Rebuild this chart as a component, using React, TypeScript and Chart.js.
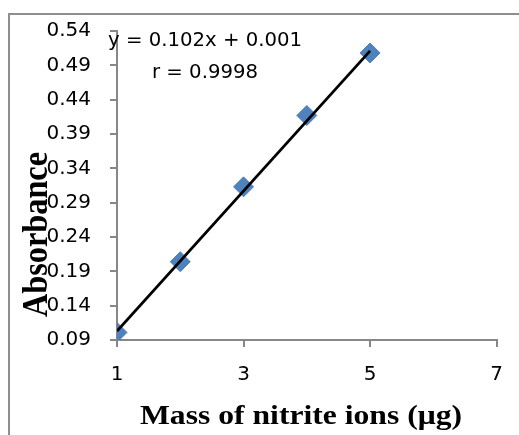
import React, { useEffect, useRef } from "react";
import { Chart, registerables } from "chart.js";

Chart.register(...registerables);

// ---- data ----
const massX = [1, 2, 3, 4, 5];
const absorbanceY = [0.101, 0.204, 0.313, 0.417, 0.508];
const trendX = [1, 5];
const trendY = [0.103, 0.511];
const xTickValues = [1, 3, 5, 7];
const yTickValues = [0.09, 0.14, 0.19, 0.24, 0.29, 0.34, 0.39, 0.44, 0.49, 0.54];
const equationText = "y = 0.102x + 0.001";
const rText = "r = 0.9998";
const xTitle = "Mass of nitrite ions (\u03bcg)";
const yTitle = "Absorbance";

const AXIS_GRAY = "#878787";
const SANS = "'DejaVu Sans', sans-serif";
const SERIF = "'Liberation Serif', 'Times New Roman', serif";

function fitText(ctx: CanvasRenderingContext2D, text: string, x: number, y: number, targetW: number) {
  const w = ctx.measureText(text).width;
  const s = targetW / w;
  ctx.save();
  ctx.translate(x, y);
  ctx.scale(s, 1);
  ctx.textAlign = "center";
  ctx.fillText(text, 0, 0);
  ctx.restore();
}

const decorPlugin = {
  id: "decor",
  afterDraw(chart: any) {
    const ctx: CanvasRenderingContext2D = chart.ctx;
    const W = chart.width;
    const H = chart.height;
    ctx.save();
    // outer frame (only top and left visible)
    ctx.strokeStyle = "#8e8e8e";
    ctx.lineWidth = 2;
    ctx.beginPath();
    ctx.moveTo(9, H);
    ctx.lineTo(9, 14);
    ctx.lineTo(W, 14);
    ctx.stroke();

    // equation annotation
    ctx.fillStyle = "#000";
    ctx.textBaseline = "alphabetic";
    ctx.font = `20px ${SANS}`;
    fitText(ctx, equationText, 205, 46, 194);
    fitText(ctx, rText, 205, 78, 106);

    // x title
    ctx.font = `bold 27px ${SERIF}`;
    fitText(ctx, xTitle, 301, 424, 322);

    // y title
    ctx.save();
    ctx.translate(47, 234.5);
    ctx.rotate(-Math.PI / 2);
    ctx.font = `bold 35px ${SERIF}`;
    fitText(ctx, yTitle, 0, 0, 165);
    ctx.restore();

    ctx.restore();
  },
};

export default function App() {
  const ref = useRef<HTMLCanvasElement>(null);

  useEffect(() => {
    if (!ref.current) return;
    const chart = new Chart(ref.current, {
      type: "scatter",
      data: {
        datasets: [
          {
            type: "line",
            data: trendX.map((x, i) => ({ x, y: trendY[i] })),
            borderColor: "#000",
            borderWidth: 2.8,
            pointRadius: 0,
            fill: false,
          },
          {
            data: massX.map((x, i) => ({ x, y: absorbanceY[i] })),
            backgroundColor: "#4f81bd",
            borderColor: "#4f81bd",
            borderWidth: 1,
            pointStyle: "rectRot",
            pointRadius: 10,
          },
        ],
      },
      options: {
        animation: false,
        responsive: false,
        layout: { padding: { left: 0, top: 29, right: 20, bottom: 0 } },
        plugins: {
          legend: { display: false },
          tooltip: { enabled: false },
          title: { display: false },
        },
        scales: {
          x: {
            type: "linear",
            min: 1,
            max: 7,
            afterBuildTicks: (s: any) => {
              s.ticks = xTickValues.map((v) => ({ value: v }));
            },
            afterFit: (s: any) => {
              s.height = 95;
            },
            grid: {
              drawOnChartArea: false,
              drawTicks: true,
              tickLength: 7,
              color: AXIS_GRAY,
              lineWidth: 2,
            },
            border: { color: AXIS_GRAY, width: 2 },
            ticks: {
              color: "#000",
              font: { family: SANS, size: 20 },
              padding: 16,
              maxRotation: 0,
              callback: (v: any) => String(v),
            },
          },
          y: {
            type: "linear",
            min: 0.09,
            max: 0.54,
            afterBuildTicks: (s: any) => {
              s.ticks = yTickValues.map((v) => ({ value: v }));
            },
            afterFit: (s: any) => {
              s.width = 117;
            },
            grid: {
              drawOnChartArea: false,
              drawTicks: true,
              tickLength: 7,
              color: AXIS_GRAY,
              lineWidth: 2,
            },
            border: { color: AXIS_GRAY, width: 2 },
            ticks: {
              color: "#000",
              font: { family: SANS, size: 20 },
              padding: 19,
              callback: (v: any) => Number(v).toFixed(2),
            },
          },
        },
      },
      plugins: [decorPlugin],
    } as any);
    return () => chart.destroy();
  }, []);

  return (
    <div style={{ position: "absolute", left: 0, top: 0, width: 519, height: 435, background: "#fff" }}>
      <canvas ref={ref} width={519} height={435} style={{ display: "block" }} />
    </div>
  );
}
